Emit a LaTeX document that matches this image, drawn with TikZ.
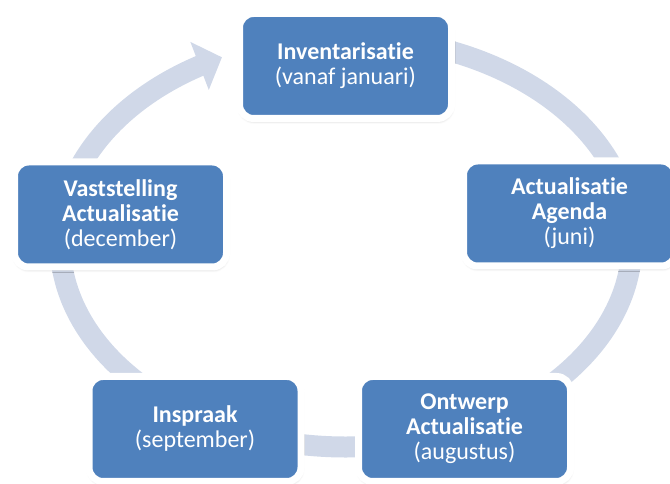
\documentclass[tikz,border=0pt]{standalone}
\usepackage{fontspec}
\setmainfont[RawFeature=-liga]{Carlito}
\usetikzlibrary{arrows.meta,bending,shadows.blur}
\definecolor{boxblue}{RGB}{79,129,189}
\definecolor{ringcol}{RGB}{208,216,232}
\begin{document}
\begin{tikzpicture}[x=1pt,y=1pt,
  stage/.style={draw=white, line width=7pt, fill=boxblue, rounded corners=14pt,
    minimum width=212pt, minimum height=105pt, align=center, text=white,
    font=\fontsize{24}{25}\selectfont, inner sep=0pt,
    blur shadow={shadow xshift=0.5pt, shadow yshift=-2.5pt, shadow blur radius=3pt, shadow opacity=28}},
  ring/.style={draw=ringcol, line width=21pt}]
\useasboundingbox (0,0) rectangle (670,484);
\clip (0,0) rectangle (670,484);
\coordinate (c) at (346,242);
\coordinate (tail) at ([shift={(95:286pt and 205pt)}]c);
\draw[ring, -{Triangle[width=50pt,length=24pt]}] (tail)
  arc[start angle=95, end angle=-244.3, x radius=286pt, y radius=205pt];
\node[stage] (inv) at (345.5,418) {\textbf{Inventarisatie}\\(vanaf januari)};
\node[stage] (agenda) at (569.5,270.5) {\textbf{Actualisatie}\\\textbf{Agenda}\\(juni)};
\node[stage] (ontwerp) at (464.5,55) {\textbf{Ontwerp}\\\textbf{Actualisatie}\\(augustus)};
\node[stage] (inspraak) at (195,55) {\textbf{Inspraak}\\(september)};
\node[stage] (vast) at (120.5,269.5) {\textbf{Vaststelling}\\\textbf{Actualisatie}\\(december)};
\end{tikzpicture}
\end{document}
